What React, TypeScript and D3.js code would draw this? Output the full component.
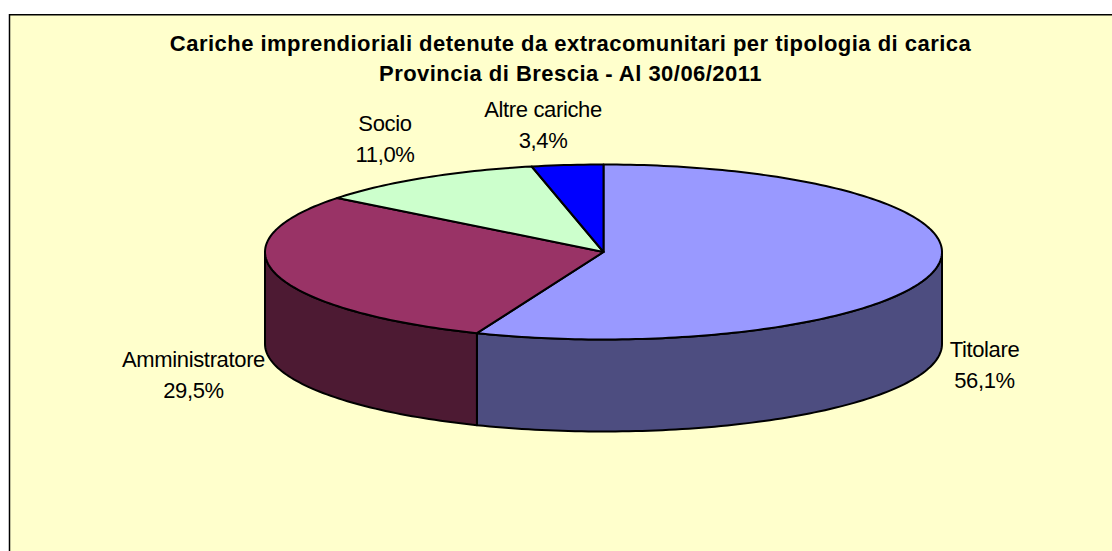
import React from "react";
import * as d3 from "d3";

const categories = ["Titolare", "Amministratore", "Socio", "Altre cariche"];
const shareValues = [56.1, 29.5, 11.0, 3.4];
const shareLabels = ["56,1%", "29,5%", "11,0%", "3,4%"];
const topColors = ["#9999FF", "#993366", "#CCFFCC", "#0000FF"];
const wallColors = ["#4D4D80", "#4D1A33", "#667F66", "#000080"];
const titleLines = [
  "Cariche imprendioriali detenute da extracomunitari per tipologia di carica",
  "Provincia di Brescia - Al 30/06/2011",
];
const labelAnchors: [number, number][] = [
  [984.5, 357],
  [193.5, 367],
  [385, 131],
  [543, 117],
];

const WIDTH = 1112;
const HEIGHT = 551;
const DEPTH = 92;
const FONT = "'Liberation Sans', Arial, sans-serif";

const xScale = d3.scaleLinear().domain([-1, 1]).range([265, 942]);
const yScale = d3.scaleLinear().domain([-1, 1]).range([339.5, 164.5]);

const pieLayout = d3.pie<number>().sort(null).value((d) => d);
const slices = pieLayout(shareValues);

const rim = (a0: number, a1: number, dy = 0): [number, number][] => {
  const n = Math.max(2, Math.ceil(Math.abs(a1 - a0) / 0.02));
  return d3.range(n + 1).map((i) => {
    const a = a0 + ((a1 - a0) * i) / n;
    return [xScale(Math.sin(a)), yScale(Math.cos(a)) + dy] as [number, number];
  });
};
const line = d3.line();
const LEFT = Math.PI * 1.5;
const RIGHT = Math.PI * 0.5;

const wallPath = (a0: number, a1: number) => {
  const start = Math.max(a0, RIGHT);
  const end = Math.min(a1, LEFT);
  if (end <= start) return null;
  return line([...rim(start, end), ...rim(end, start, DEPTH)]) + "Z";
};
const topPath = (a0: number, a1: number) =>
  line([[xScale(0), yScale(0)], ...rim(a0, a1)]) + "Z";

export default function App() {
  return (
    <svg
      width={WIDTH}
      height={HEIGHT}
      viewBox={`0 0 ${WIDTH} ${HEIGHT}`}
      style={{ position: "absolute", left: 0, top: 0, display: "block", background: "#fff" }}
    >
      <rect x={9.5} y={14.75} width={1120} height={560} fill="#FFFFCC" stroke="#000" strokeWidth={1.5} />
      {titleLines.map((t, i) => (
        <text
          key={t}
          x={570.5}
          y={51 + i * 30}
          textAnchor="middle"
          fontFamily={FONT}
          fontWeight="bold"
          fontSize={22}
          letterSpacing={0.47}
          fill="#000"
        >
          {t}
        </text>
      ))}
      {slices.map((s, i) => {
        const d = wallPath(s.startAngle, s.endAngle);
        return d ? (
          <path key={"w" + i} d={d} fill={wallColors[i]} stroke="#000" strokeWidth={2} strokeLinejoin="round" />
        ) : null;
      })}
      {slices.map((s, i) => (
        <path
          key={"t" + i}
          d={topPath(s.startAngle, s.endAngle)}
          fill={topColors[i]}
          stroke="#000"
          strokeWidth={2}
          strokeLinejoin="round"
        />
      ))}
      {categories.map((c, i) => (
        <text key={c} textAnchor="middle" fontFamily={FONT} fontSize={22} letterSpacing={-0.35} fill="#000">
          <tspan x={labelAnchors[i][0]} y={labelAnchors[i][1]}>{c}</tspan>
          <tspan x={labelAnchors[i][0]} y={labelAnchors[i][1] + 30.5}>{shareLabels[i]}</tspan>
        </text>
      ))}
    </svg>
  );
}
